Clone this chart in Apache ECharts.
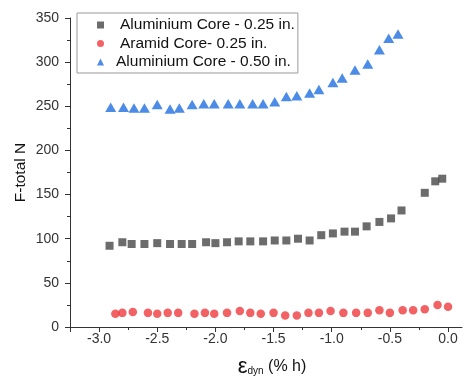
<!DOCTYPE html>
<html>
<head>
<meta charset="utf-8">
<script src="https://cdn.jsdelivr.net/npm/echarts@6/dist/echarts.min.js"></script>
<style>html,body{margin:0;padding:0;background:#fff}#c{width:468px;height:376px}</style>
</head>
<body>
<div id="c"></div>
<script>
const seriesNames = ['Aluminium Core - 0.25 in.', 'Aramid Core- 0.25 in.', 'Aluminium Core - 0.50 in.'];

const alu25X = [-2.91, -2.80, -2.72, -2.61, -2.50, -2.39, -2.29, -2.20, -2.08, -2.00, -1.90, -1.80, -1.70, -1.59, -1.49, -1.39, -1.29, -1.19, -1.09, -0.99, -0.89, -0.80, -0.70, -0.59, -0.49, -0.40, -0.20, -0.11, -0.05];
const alu25Y = [92, 96, 94, 94, 95, 94, 94, 94, 96, 95, 96, 97, 97, 97, 98, 98, 100, 98, 104, 106, 108, 108, 114, 119, 123, 132, 152, 165, 168];

const aramidX = [-2.86, -2.80, -2.71, -2.58, -2.50, -2.41, -2.32, -2.18, -2.09, -2.01, -1.90, -1.79, -1.70, -1.61, -1.50, -1.40, -1.30, -1.20, -1.11, -1.01, -0.90, -0.79, -0.69, -0.59, -0.50, -0.39, -0.30, -0.20, -0.09, 0.0];
const aramidY = [15, 16, 17, 16, 15, 16, 16, 15, 16, 15, 16, 18, 16, 15, 16, 13, 13, 16, 16, 18, 16, 16, 16, 19, 16, 19, 19, 20, 25, 23];

const alu50X = [-2.90, -2.79, -2.70, -2.61, -2.50, -2.39, -2.31, -2.20, -2.10, -2.01, -1.89, -1.79, -1.68, -1.59, -1.49, -1.39, -1.30, -1.19, -1.11, -0.99, -0.91, -0.80, -0.69, -0.59, -0.51, -0.43];
const alu50Y = [249, 249, 248, 248, 252, 247, 248, 252, 253, 253, 253, 253, 253, 253, 255, 261, 262, 265, 269, 277, 282, 291, 298, 314, 327, 332];

const xTicks = [-3.0, -2.5, -2.0, -1.5, -1.0, -0.5, 0.0];
const yTicks = [0, 50, 100, 150, 200, 250, 300, 350];

const zip = (xs, ys) => xs.map((x, i) => [x, ys[i]]);

const colors = ['#474747', '#ef3a3c', '#1f6fe0'];
const axisColor = '#333';
const font = 'Liberation Sans, Arial, sans-serif';

const chart = echarts.init(document.getElementById('c'), null, {renderer: 'canvas'});
chart.setOption({
  animation: false,
  backgroundColor: '#fff',
  textStyle: {fontFamily: font},
  grid: {left: 70, right: 6, top: 18, bottom: 49, containLabel: false, outerBoundsMode: 'none'},
  legend: {
    orient: 'vertical',
    left: 77,
    top: 13,
    padding: [4, 3, 3, 20],
    itemGap: 2.5,
    itemWidth: 7,
    itemHeight: 7,
    borderColor: '#999',
    borderWidth: 1,
    textStyle: {fontSize: 15.5, color: '#111', fontFamily: font, lineHeight: 15, padding: [0, 0, 0, 11]},
    data: [
      {name: seriesNames[0], icon: 'rect', itemStyle: {color: colors[0]}},
      {name: seriesNames[1], icon: 'circle', itemStyle: {color: colors[1]}},
      {name: seriesNames[2], icon: 'triangle', textStyle: {padding: [0, 0, 0, 7]}, itemStyle: {color: colors[2]}}
    ]
  },
  xAxis: {
    type: 'value',
    min: -3.25,
    max: 0.12,
    splitNumber: 7,
    name: '{e|ε}{s|dyn}{t| (% h)}',
    nameLocation: 'middle',
    nameGap: 29,
    nameTextStyle: {
      padding: [0, 0, 0, 12],
      rich: {
        e: {fontSize: 22, color: '#111', fontFamily: font},
        s: {fontSize: 10, color: '#111', fontFamily: font, padding: [9, 0, 0, 0]},
        t: {fontSize: 16, color: '#111', fontFamily: font}
      }
    },
    axisLine: {show: true, onZero: false, lineStyle: {color: axisColor, width: 1}},
    axisTick: {show: true, inside: false, length: 5, customValues: [-3.25].concat(xTicks), lineStyle: {color: axisColor}},
    minorTick: {show: true, splitNumber: 2, length: 3, lineStyle: {color: axisColor}},
    axisLabel: {
      customValues: xTicks,
      margin: 5,
      fontSize: 14,
      color: '#333',
      fontFamily: font,
      formatter: v => v.toFixed(1)
    },
    splitLine: {show: false}
  },
  yAxis: {
    type: 'value',
    min: 0,
    max: 350,
    interval: 50,
    name: 'F-total N',
    nameLocation: 'middle',
    nameGap: 41,
    nameMoveOverlap: false,
    nameRotate: 90,
    nameTextStyle: {fontSize: 15.5, color: '#111', fontFamily: font},
    axisLine: {show: true, onZero: false, lineStyle: {color: axisColor, width: 1}},
    axisTick: {show: true, inside: false, length: 5, lineStyle: {color: axisColor}},
    minorTick: {show: true, splitNumber: 2, length: 3, lineStyle: {color: axisColor}},
    axisLabel: {margin: 11, fontSize: 14, color: '#333', fontFamily: font,
      customValues: yTicks},
    splitLine: {show: false}
  },
  series: [
    {name: seriesNames[0], type: 'scatter', symbol: 'rect', symbolSize: 8,
     itemStyle: {color: colors[0]}, data: zip(alu25X, alu25Y), z: 3},
    {name: seriesNames[1], type: 'scatter', symbol: 'circle', symbolSize: 8.5,
     itemStyle: {color: colors[1]}, data: zip(aramidX, aramidY), z: 4},
    {name: seriesNames[2], type: 'scatter', symbol: 'triangle', symbolSize: [11, 9.5],
     itemStyle: {color: colors[2]}, data: zip(alu50X, alu50Y), z: 5}
  ]
});
</script>
</body>
</html>
